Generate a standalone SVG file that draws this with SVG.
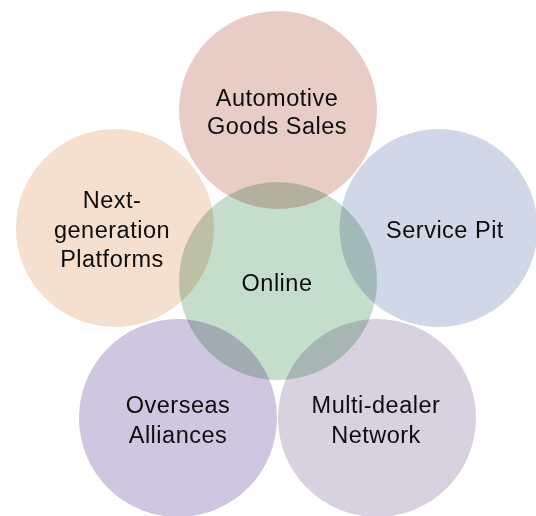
<svg xmlns="http://www.w3.org/2000/svg" width="536" height="516" viewBox="0 0 536 516">
  <style>
    .petal { mix-blend-mode: multiply; }
    .label { font-family: "Liberation Sans", Arial, sans-serif; font-size: 23.5px; letter-spacing: 0.5px; fill: #0d0d0d; text-anchor: middle; }
  </style>
  <rect width="536" height="516" fill="#ffffff"/>
  <g id="automotive-goods-sales">
    <circle class="petal" cx="278" cy="110" r="99" fill="#E8CDC6"/>
    <text class="label" x="277" y="106">Automotive</text>
    <text class="label" x="277" y="134">Goods Sales</text>
  </g>
  <g id="next-generation-platforms">
    <circle class="petal" cx="115" cy="228" r="99" fill="#F5DFCE"/>
    <text class="label" x="112" y="208">Next-</text>
    <text class="label" x="112" y="238">generation</text>
    <text class="label" x="112" y="267">Platforms</text>
  </g>
  <g id="service-pit">
    <circle class="petal" cx="438.5" cy="228" r="99" fill="#D0D7E7"/>
    <text class="label" x="445" y="238">Service Pit</text>
  </g>
  <g id="overseas-alliances">
    <circle class="petal" cx="178" cy="418" r="99" fill="#CFC7DF"/>
    <text class="label" x="178" y="413">Overseas</text>
    <text class="label" x="178" y="443">Alliances</text>
  </g>
  <g id="multi-dealer-network">
    <circle class="petal" cx="377" cy="418" r="99" fill="#D8D2E0"/>
    <text class="label" x="376" y="413">Multi-dealer</text>
    <text class="label" x="376" y="443">Network</text>
  </g>
  <g id="online">
    <circle class="petal" cx="278" cy="281" r="99" fill="#C5DDCB"/>
    <text class="label" x="277" y="291">Online</text>
  </g>
</svg>
